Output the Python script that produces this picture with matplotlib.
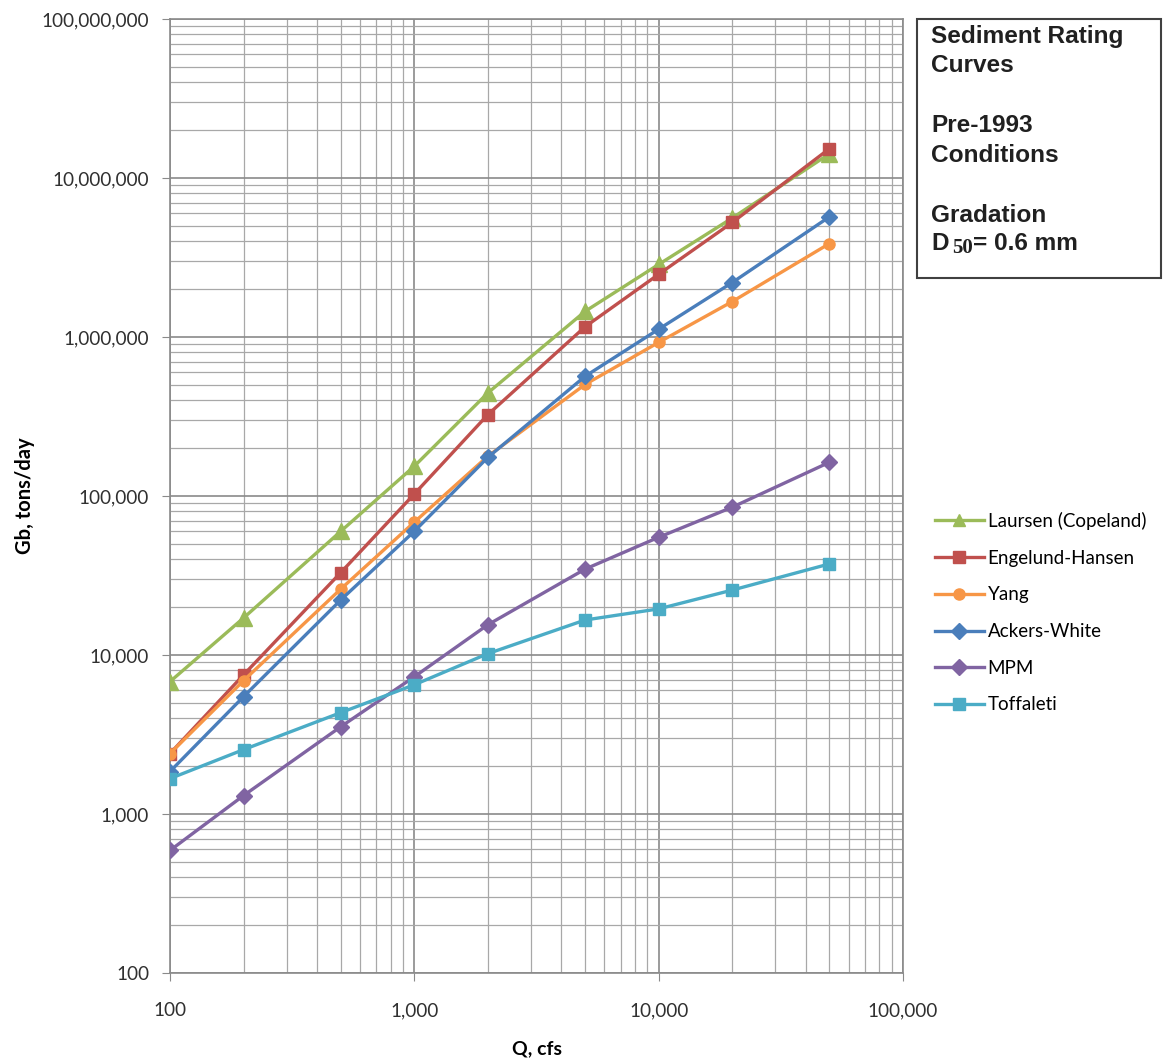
import matplotlib
matplotlib.use('Agg')
from matplotlib import pyplot as plt
from matplotlib.patches import Rectangle
from matplotlib.ticker import FuncFormatter, LogLocator, NullFormatter

q = [100, 200, 500, 1000, 2000, 5000, 10000, 20000, 50000]

laursen = [6800, 17100, 60000, 154000, 445000, 1450000, 2860000, 5600000, 14200000]
engelund = [2400, 7500, 33000, 103000, 325000, 1160000, 2480000, 5250000, 15300000]
yang = [2400, 6900, 26000, 68500, 178000, 503000, 925000, 1670000, 3870000]
ackers = [1850, 5470, 22200, 60000, 175000, 566000, 1120000, 2200000, 5700000]
mpm = [590, 1306, 3540, 7300, 15500, 34700, 55000, 85000, 163000]
toffaleti = [1670, 2540, 4340, 6500, 10200, 16600, 19500, 25600, 37400]

series = [
    ('Laursen (Copeland)', laursen, '#9BBB59', '^', 11),
    ('Engelund-Hansen', engelund, '#C0504D', 's', 9),
    ('Yang', yang, '#F79646', 'o', 8),
    ('Ackers-White', ackers, '#4A7EBB', 'D', 8),
    ('MPM', mpm, '#8064A2', 'D', 8),
    ('Toffaleti', toffaleti, '#4BACC6', 's', 9),
]

W, H = 1163, 1062
fig = plt.figure(figsize=(W / 100, H / 100), dpi=100)


def fx(px):
    return px / W


def fy(py):
    return 1 - py / H


ax = fig.add_axes([fx(170), fy(973), fx(903) - fx(170), fy(19) - fy(973)])

for label, vals, color, marker, ms in series:
    ax.plot(q, vals, color=color, marker=marker, markersize=ms, linewidth=2.4,
            label=label, zorder=3)

ax.set_xscale('log')
ax.set_yscale('log')
ax.set_xlim(100, 100000)
ax.set_ylim(100, 100000000)

ax.xaxis.set_major_locator(LogLocator(base=10))
ax.yaxis.set_major_locator(LogLocator(base=10))
ax.xaxis.set_minor_locator(LogLocator(base=10, subs=range(2, 10)))
ax.yaxis.set_minor_locator(LogLocator(base=10, subs=range(2, 10)))
fmt = FuncFormatter(lambda v, p: f'{int(round(v)):,}')
ax.xaxis.set_major_formatter(fmt)
ax.yaxis.set_major_formatter(fmt)
ax.xaxis.set_minor_formatter(NullFormatter())
ax.yaxis.set_minor_formatter(NullFormatter())

ax.grid(which='major', color='#8a8a8a', linewidth=1.2)
ax.grid(which='minor', color='#a8a8a8', linewidth=0.9)
ax.set_axisbelow(True)
for s in ax.spines.values():
    s.set_color('#8a8a8a')
    s.set_linewidth(1.2)

ax.tick_params(which='major', length=6, color='#8a8a8a', labelsize=13.6,
               labelcolor='#303030', labelfontfamily='Lato')
ax.tick_params(axis='y', which='major', pad=9)
ax.tick_params(axis='x', which='major', pad=15)
ax.tick_params(which='minor', length=0)

ax.set_xlabel('Q, cfs', fontsize=14, fontweight='bold', family='Lato')
ax.set_ylabel('Gb, tons/day', fontsize=14.5, fontweight='bold', family='Lato')
ax.xaxis.set_label_coords(0.5, -0.071)
ax.yaxis.set_label_coords(-0.184, 0.5)

leg = fig.legend(loc='upper left', bbox_to_anchor=(fx(935), fy(512)),
                 frameon=False, prop={'family': 'Lato', 'size': 13.5},
                 handlelength=2.6, handletextpad=0.2, labelspacing=1.05,
                 borderaxespad=0, borderpad=0)
for h in leg.legend_handles:
    h.set_markersize(8)

box = Rectangle((fx(917), fy(278)), fx(1161) - fx(917), fy(19) - fy(278),
                transform=fig.transFigure, fill=False, edgecolor='#404040',
                linewidth=1.5)
fig.patches.append(box)

lines = [('Sediment Rating', 37), ('Curves', 66), ('Pre-1993', 125),
         ('Conditions', 155), ('Gradation', 215)]
for txt, py in lines:
    fig.text(fx(931), fy(py), txt, ha='left', va='center', fontsize=17.6,
             fontweight='bold', family='Liberation Sans', color='#202020')

# D50 line, subscript drawn as its own text
fig.text(fx(931), fy(243), 'D', ha='left', va='center', fontsize=17.6,
         fontweight='bold', family='Liberation Sans', color='#202020')
fig.text(fx(952), fy(248), '50', ha='left', va='center', fontsize=15,
         fontweight='bold', family='Liberation Serif', color='#202020')
fig.text(fx(973), fy(243), '= 0.6 mm', ha='left', va='center', fontsize=17.6,
         fontweight='bold', family='Liberation Sans', color='#202020')

plt.savefig('out.png', dpi=100)
